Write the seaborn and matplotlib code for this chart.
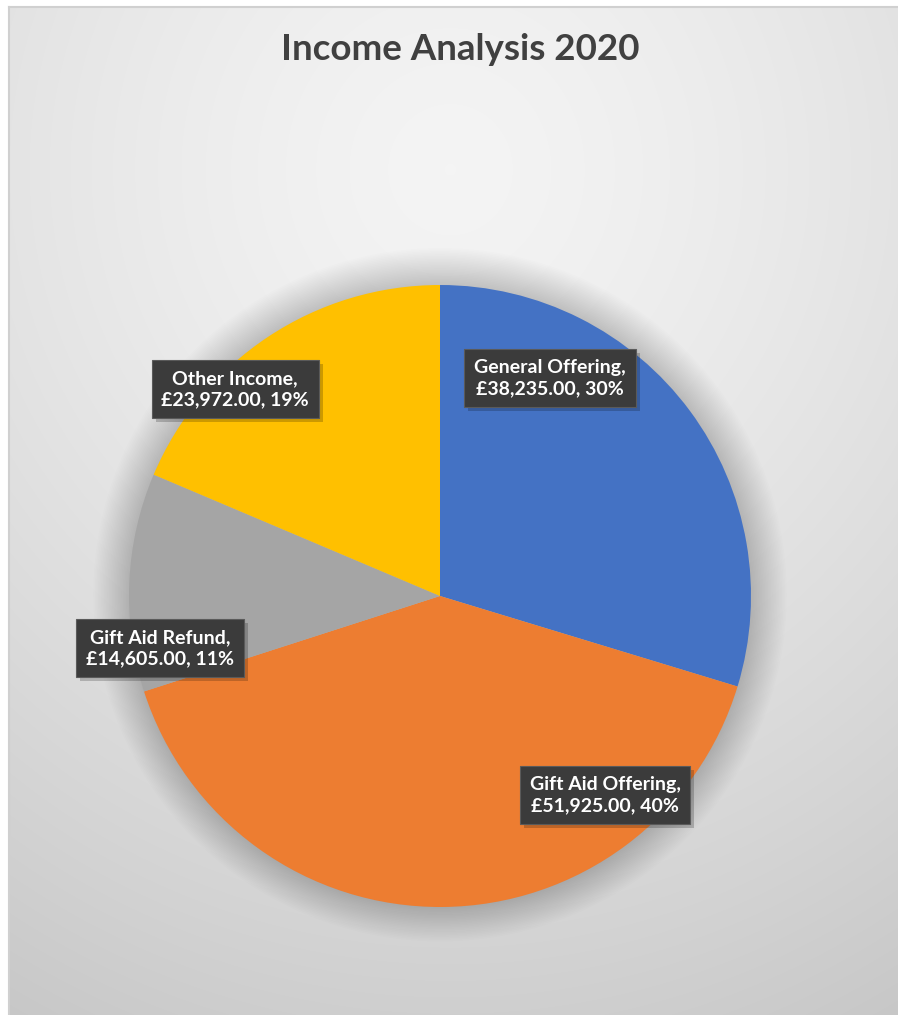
import numpy as np
import matplotlib
matplotlib.use("Agg")
import matplotlib.pyplot as plt
import matplotlib.patches as mpatches
import seaborn as sns

sns.set_theme(style="white")
plt.rcParams['font.family'] = ['Lato', 'DejaVu Sans']

# data
categories = ["General Offering", "Gift Aid Offering", "Gift Aid Refund", "Other Income"]
amounts = [38235.00, 51925.00, 14605.00, 23972.00]
colors = ["#4472C4", "#ED7D31", "#A5A5A5", "#FFC000"]
title = "Income Analysis 2020"

# label box centres in pie coordinates (radius = 1)
label_pos = [(0.354, 0.701), (0.531, -0.640), (-0.900, -0.167), (-0.659, 0.666)]

W, H = 898, 1015
fig = plt.figure(figsize=(W / 100, H / 100), dpi=100)
fig.patch.set_facecolor("white")

# chart area with soft radial gradient (runs off the right and bottom edges)
bg = fig.add_axes([9 / W, -0.01, (W - 9) / W + 0.02, (H - 7) / H + 0.01])
yy, xx = np.mgrid[7:H + 10, 9:W + 18]
d = np.hypot(xx - 450, (yy - 170) * 0.95)
shade = np.clip(0.957 - 1.25e-5 * d ** 1.4, 0, 1)
bg.imshow(np.dstack([shade] * 3), aspect="auto", interpolation="bilinear")
bg.set_xticks([])
bg.set_yticks([])
for s in ["right", "bottom"]:
    bg.spines[s].set_visible(False)
for s in ["left", "top"]:
    bg.spines[s].set_color("#d0d0d0")
    bg.spines[s].set_linewidth(1.5)

# pie
cx, cy, r = 440, 596, 311
ax = fig.add_axes([(cx - r) / W, (H - cy - r) / H, 2 * r / W, 2 * r / H])
ax.set_facecolor("none")
ax.axis("off")

# soft shadow behind the pie
for k in range(24):
    ax.add_patch(mpatches.Circle((0, 0.004), 1 + 0.005 * k, color="black", alpha=0.009,
                                 lw=0, clip_on=False, zorder=0))

wedges, _ = ax.pie(amounts, colors=colors, startangle=90, counterclock=False,
                   radius=1, wedgeprops=dict(linewidth=0))
for w in wedges:
    w.set_zorder(2)
ax.set_xlim(-1, 1)
ax.set_ylim(-1, 1)

total = sum(amounts)
labels = []
for name, val, (lx, ly) in zip(categories, amounts, label_pos):
    pct = round(val / total * 100)
    txt = f"{name},\n£{val:,.2f}, {pct}%"
    t = ax.text(lx, ly, txt, ha="center", va="center", fontsize=14, fontweight="bold",
                color="white", linespacing=1.3, zorder=4,
                bbox=dict(boxstyle="square,pad=0.5", fc="#3b3b3b", ec="#5a5a5a", lw=0.8))
    labels.append(t)

fig.text(460 / W, 1 - 50 / H, title, ha="center", va="center", fontsize=26.5,
         fontweight="bold", color="#404040")

# drop shadows for the label boxes, drawn under the boxes but over the pie
fig.canvas.draw()
renderer = fig.canvas.get_renderer()
inv = ax.transData.inverted()
for t in labels:
    bb = t.get_bbox_patch().get_window_extent(renderer)
    (x0, y0), (x1, y1) = inv.transform([(bb.x0 + 4, bb.y0 - 4), (bb.x1 + 4, bb.y1 - 4)])
    ax.add_patch(mpatches.Rectangle((x0, y0), x1 - x0, y1 - y0, fc="black", ec="none",
                                    alpha=0.2, zorder=3, clip_on=False))

fig.savefig("out.png", dpi=100)
